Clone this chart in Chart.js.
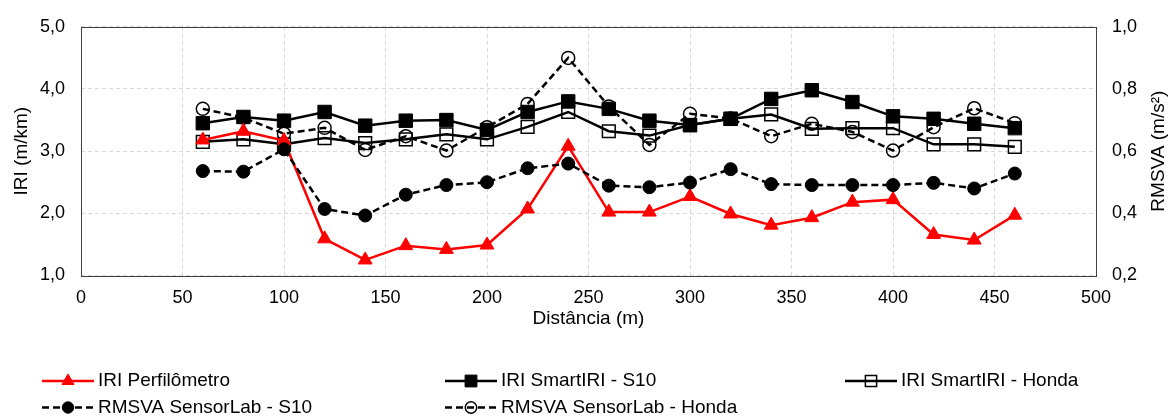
<!DOCTYPE html>
<html>
<head>
<meta charset="utf-8">
<script src="https://cdn.jsdelivr.net/npm/chart.js@4.4.1/dist/chart.umd.min.js"></script>
<style>
  html, body { margin: 0; padding: 0; background: #ffffff; }
  #wrap { width: 1168px; height: 418px; }
</style>
</head>
<body>
<div id="wrap"><canvas id="grafico" width="1168" height="418"></canvas></div>
<script>
// Distância ao longo do trecho (m)
const distancias = [60, 80, 100, 120, 140, 160, 180, 200, 220, 240, 260, 280, 300, 320, 340, 360, 380, 400, 420, 440, 460];

// IRI (m/km) – eixo principal
const iriPerfilometro = [3.18, 3.32, 3.17, 1.59, 1.25, 1.48, 1.42, 1.49, 2.07, 3.08, 2.02, 2.02, 2.27, 1.99, 1.81, 1.93, 2.18, 2.22, 1.66, 1.57, 1.97];
const iriSmartS10     = [3.45, 3.55, 3.49, 3.63, 3.41, 3.49, 3.50, 3.34, 3.63, 3.80, 3.68, 3.49, 3.42, 3.52, 3.84, 3.98, 3.79, 3.56, 3.52, 3.44, 3.37];
const iriSmartHonda   = [3.15, 3.19, 3.11, 3.21, 3.13, 3.19, 3.27, 3.19, 3.39, 3.63, 3.32, 3.25, 3.42, 3.52, 3.59, 3.36, 3.37, 3.37, 3.11, 3.11, 3.07];

// RMSVA (m/s²) – eixo secundário
const rmsvaS10   = [0.536, 0.534, 0.606, 0.414, 0.393, 0.460, 0.491, 0.500, 0.545, 0.560, 0.489, 0.484, 0.499, 0.542, 0.494, 0.491, 0.491, 0.491, 0.498, 0.480, 0.528];
const rmsvaHonda = [0.736, 0.708, 0.656, 0.675, 0.604, 0.648, 0.602, 0.677, 0.752, 0.900, 0.744, 0.620, 0.720, 0.705, 0.648, 0.688, 0.662, 0.602, 0.677, 0.738, 0.690];

// Marcas dos eixos
const ticksDistancia = [0, 50, 100, 150, 200, 250, 300, 350, 400, 450, 500];
const ticksIri       = [1, 2, 3, 4, 5];
const ticksRmsva     = [0.2, 0.4, 0.6, 0.8, 1.0];

// Nomes das séries
const nomesSeries = ['IRI Perfilômetro', 'IRI SmartIRI - S10', 'IRI SmartIRI - Honda', 'RMSVA SensorLab - S10', 'RMSVA SensorLab - Honda'];

const FONTE = "'Liberation Sans', Arial, sans-serif";
const virgula = v => Number(v).toFixed(1).replace('.', ',');
const pares = (xs, ys) => xs.map((x, i) => ({ x: x, y: ys[i] }));
const fixarTicks = valores => scale => { scale.ticks = valores.map(v => ({ value: v })); };

const TRACO = [7, 4];

const datasets = [
  {
    label: nomesSeries[0], data: pares(distancias, iriPerfilometro), yAxisID: 'yIri', order: 2,
    borderColor: '#ff0000', backgroundColor: '#ff0000', borderWidth: 2.5,
    pointStyle: 'triangle', pointRadius: 8, pointBorderWidth: 1,
    pointBackgroundColor: '#ff0000', pointBorderColor: '#ff0000'
  },
  {
    label: nomesSeries[1], data: pares(distancias, iriSmartS10), yAxisID: 'yIri', order: 3,
    borderColor: '#000000', backgroundColor: '#000000', borderWidth: 2.5,
    pointStyle: 'rect', pointRadius: 9.5, pointBorderWidth: 1,
    pointBackgroundColor: '#000000', pointBorderColor: '#000000'
  },
  {
    label: nomesSeries[2], data: pares(distancias, iriSmartHonda), yAxisID: 'yIri', order: 4,
    borderColor: '#000000', backgroundColor: 'rgba(0,0,0,0)', borderWidth: 2.5,
    pointStyle: 'rect', pointRadius: 9, pointBorderWidth: 1.5,
    pointBackgroundColor: 'rgba(0,0,0,0)', pointBorderColor: '#000000'
  },
  {
    label: nomesSeries[3], data: pares(distancias, rmsvaS10), yAxisID: 'yRms', order: 1,
    borderColor: '#000000', backgroundColor: '#000000', borderWidth: 2.5, borderDash: TRACO,
    pointStyle: 'circle', pointRadius: 6.5, pointBorderWidth: 1,
    pointBackgroundColor: '#000000', pointBorderColor: '#000000'
  },
  {
    label: nomesSeries[4], data: pares(distancias, rmsvaHonda), yAxisID: 'yRms', order: 5,
    borderColor: '#000000', backgroundColor: 'rgba(0,0,0,0)', borderWidth: 2.5, borderDash: TRACO,
    pointStyle: 'circle', pointRadius: 6.5, pointBorderWidth: 1.5,
    pointBackgroundColor: 'rgba(0,0,0,0)', pointBorderColor: '#000000'
  }
];

// Moldura da área de plotagem
const moldura = {
  id: 'moldura',
  beforeDatasetsDraw(chart) {
    const { ctx, chartArea: a } = chart;
    ctx.save();
    ctx.strokeStyle = '#404040';
    ctx.lineWidth = 1;
    ctx.setLineDash([]);
    ctx.strokeRect(Math.round(a.left) + 0.5, Math.round(a.top) + 0.5,
                   Math.round(a.right - a.left), Math.round(a.bottom - a.top));
    ctx.restore();
  }
};

// Título do eixo secundário, lido de baixo para cima
const tituloDireito = {
  id: 'tituloDireito',
  afterDraw(chart) {
    const { ctx, chartArea: a } = chart;
    ctx.save();
    ctx.translate(1159, (a.top + a.bottom) / 2);
    ctx.rotate(-Math.PI / 2);
    ctx.font = '19px ' + FONTE;
    ctx.fillStyle = '#000000';
    ctx.textAlign = 'center';
    ctx.textBaseline = 'middle';
    ctx.fillText('RMSVA (m/s²)', 0, 0);
    ctx.restore();
  }
};

// Legenda em grade (3 colunas, 2 linhas)
const legendaGrade = {
  id: 'legendaGrade',
  afterDraw(chart) {
    const { ctx } = chart;
    const colunas = [42, 445, 845];
    const linhas = [381, 407.5];
    const comprimento = 52;
    chart.data.datasets.forEach((ds, i) => {
      const x0 = colunas[i % 3];
      const y = linhas[Math.floor(i / 3)];
      ctx.save();
      ctx.strokeStyle = ds.borderColor;
      ctx.lineWidth = ds.borderWidth;
      ctx.setLineDash(ds.borderDash || []);
      ctx.beginPath();
      ctx.moveTo(x0, y);
      ctx.lineTo(x0 + comprimento, y);
      ctx.stroke();
      ctx.setLineDash([]);
      ctx.fillStyle = ds.pointBackgroundColor;
      ctx.strokeStyle = ds.pointBorderColor;
      ctx.lineWidth = ds.pointBorderWidth;
      Chart.helpers.drawPoint(ctx, {
        pointStyle: ds.pointStyle, rotation: 0,
        radius: ds.pointRadius * 0.88, borderWidth: ds.pointBorderWidth
      }, x0 + comprimento / 2, y);
      ctx.font = '19px ' + FONTE;
      ctx.fillStyle = '#000000';
      ctx.textAlign = 'left';
      ctx.textBaseline = 'middle';
      ctx.fillText(ds.label, x0 + comprimento + 4, y);
      ctx.restore();
    });
  }
};

const grade = { color: '#d9d9d9', lineWidth: 1, drawTicks: false, tickLength: 0 };
const borda = { display: false, dash: [4, 3] };

new Chart(document.getElementById('grafico'), {
  type: 'line',
  data: { datasets: datasets },
  options: {
    responsive: false,
    animation: false,
    devicePixelRatio: 1,
    layout: { padding: { left: 0, right: 0, top: 25, bottom: 87.5 } },
    plugins: { legend: { display: false }, tooltip: { enabled: false } },
    elements: { line: { tension: 0 } },
    scales: {
      x: {
        type: 'linear', position: 'bottom', min: 0, max: 500,
        afterBuildTicks: fixarTicks(ticksDistancia),
        afterFit: s => { s.height = 55; },
        grid: grade, border: borda,
        ticks: { font: { family: FONTE, size: 18 }, color: '#000000', padding: 12, maxRotation: 0 },
        title: { display: true, text: 'Distância (m)', font: { family: FONTE, size: 19 }, color: '#000000', padding: { top: 0, bottom: 0 } }
      },
      yIri: {
        type: 'linear', position: 'left', min: 1, max: 5,
        afterBuildTicks: fixarTicks(ticksIri),
        afterFit: s => { s.width = 81; },
        grid: grade, border: borda,
        ticks: { font: { family: FONTE, size: 18 }, color: '#000000', padding: 16, callback: virgula },
        title: { display: true, text: 'IRI (m/km)', font: { family: FONTE, size: 19 }, color: '#000000', padding: { top: 10, bottom: 0 } }
      },
      yRms: {
        type: 'linear', position: 'right', min: 0.2, max: 1.0,
        afterBuildTicks: fixarTicks(ticksRmsva),
        afterFit: s => { s.width = 72; },
        grid: { display: false, drawTicks: false, tickLength: 0 }, border: { display: false },
        ticks: { font: { family: FONTE, size: 18 }, color: '#000000', padding: 16, callback: virgula }
      }
    }
  },
  plugins: [moldura, tituloDireito, legendaGrade]
});
</script>
</body>
</html>
